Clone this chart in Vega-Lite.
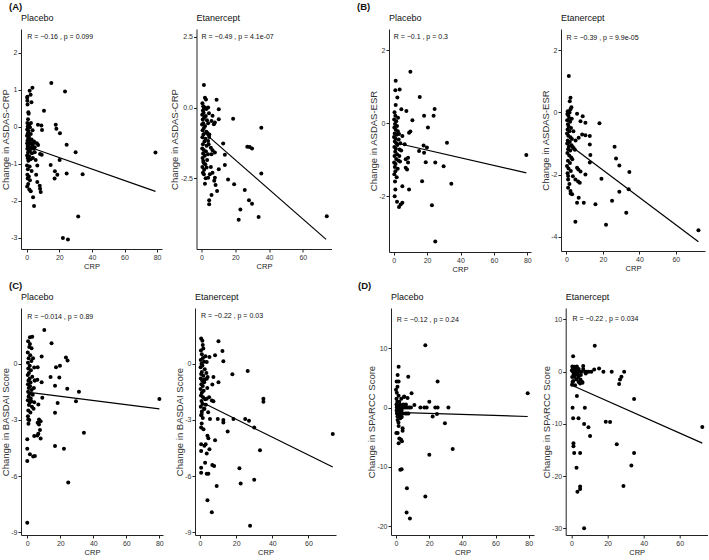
{
"$schema": "https://vega.github.io/schema/vega-lite/v6.json",
"padding": {"left": 0, "top": 1, "right": 0, "bottom": 0},
"background": "white",
"config": {
  "font": "Liberation Sans",
  "view": {"stroke": null},
  "axis": {"domainColor": "#222", "tickColor": "#222", "labelColor": "#333", "titleColor": "#222", "labelFontSize": 7, "titleFontSize": 7.5, "titleFontWeight": "normal", "tickSize": 3, "grid": false, "labelPadding": 1.5, "titlePadding": 2, "labelExpr": "replace(datum.label, '−', '-')"},
  "axisY": {"titleFontSize": 9.5, "titlePadding": 0.5, "labelPadding": 1, "titleColor": "#333"},
  "title": {"anchor": "start", "frame": "group", "fontSize": 9, "fontWeight": "normal", "color": "#111", "offset": 6, "baseline": "alphabetic"},
  "circle": {"size": 16, "color": "black", "opacity": 1},
  "line": {"color": "black", "strokeWidth": 1.2},
  "text": {"align": "left", "baseline": "middle", "fontSize": 7, "color": "#111"}
},
"datasets": {
  "L": [
    {"p":"AP","x":0.2,"y":-0.53},{"p":"AP","x":79,"y":-1.75},
    {"p":"AE","x":0.5,"y":-0.83},{"p":"AE","x":73.8,"y":-4.66},
    {"p":"BP","x":0.2,"y":-0.53},{"p":"BP","x":79.4,"y":-1.36},
    {"p":"BE","x":0.2,"y":-0.98},{"p":"BE","x":72.4,"y":-4.15},
    {"p":"CP","x":0,"y":-1.52},{"p":"CP","x":80,"y":-2.41},
    {"p":"CE","x":0.5,"y":-2.04},{"p":"CE","x":73.5,"y":-5.52},
    {"p":"DP","x":0,"y":-0.82},{"p":"DP","x":79.4,"y":-1.51},
    {"p":"DE","x":0.5,"y":-2.65},{"p":"DE","x":72.5,"y":-13.7}
  ],
  "T": [
    {"p":"AP","x":0.3,"y":2.43,"t":"R = −0.16 , p = 0.099"},
    {"p":"AE","x":0,"y":2.5,"t":"R = −0.49 , p = 4.1e-07"},
    {"p":"BP","x":0,"y":2.35,"t":"R = −0.1 , p = 0.3"},
    {"p":"BE","x":0,"y":2.39,"t":"R = −0.39 , p = 9.9e-05"},
    {"p":"CP","x":0,"y":2.48,"t":"R = −0.014 , p = 0.89"},
    {"p":"CE","x":0.5,"y":2.54,"t":"R = −0.22 , p = 0.03"},
    {"p":"DP","x":0.5,"y":14.76,"t":"R = −0.12 , p = 0.24"},
    {"p":"DE","x":0.5,"y":10.0,"t":"R = −0.22 , p = 0.034"}
  ],
  "AP": [
    {"x":15.1,"y":1.18},{"x":23.5,"y":0.95},{"x":3.5,"y":1.05},{"x":1.8,"y":0.97},{"x":0.4,"y":0.81},{"x":2.4,"y":0.86},{"x":0.4,"y":0.7},{"x":2.9,"y":0.66},{"x":10.6,"y":0.43},{"x":1.0,"y":0.39},{"x":6.9,"y":0.05},{"x":9.0,"y":0.03},{"x":17.8,"y":0.05},{"x":18.2,"y":-0.06},{"x":9.4,"y":-0.09},{"x":20.4,"y":-0.18},{"x":24.5,"y":-0.49},{"x":30,"y":-0.69},{"x":79,"y":-0.7},{"x":14.7,"y":-1.04},{"x":20.2,"y":-0.9},{"x":17.3,"y":-1.21},{"x":18.8,"y":-1.3},{"x":17.1,"y":-1.4},{"x":24.5,"y":-1.27},{"x":34.3,"y":-1.29},{"x":31.6,"y":-2.43},{"x":22.2,"y":-3.01},{"x":25.3,"y":-3.05},{"x":4.5,"y":-2.15},{"x":3.9,"y":-1.91},{"x":6.5,"y":-1.05},{"x":6.5,"y":-1.5},{"x":8.2,"y":-1.68},{"x":8.6,"y":-1.77},{"x":8.0,"y":-1.6},{"x":9.2,"y":-0.76},{"x":8.2,"y":-0.74},{"x":4.9,"y":-0.69},{"x":4.9,"y":-0.56},{"x":6.2,"y":-0.45},{"x":7.0,"y":-0.5},{"x":5.5,"y":-0.9},{"x":5.8,"y":-1.3},
    {"x":0.3,"y":0.78},{"x":0.5,"y":0.6},{"x":1.2,"y":0.35},{"x":0.8,"y":0.2},{"x":0.4,"y":0.1},{"x":1.5,"y":0.05},{"x":0.6,"y":0.0},{"x":2.0,"y":-0.02},{"x":0.3,"y":-0.08},{"x":1.1,"y":-0.12},{"x":0.7,"y":-0.18},{"x":2.5,"y":-0.2},{"x":0.2,"y":-0.25},{"x":1.4,"y":-0.28},{"x":0.9,"y":-0.33},{"x":3.0,"y":-0.35},{"x":0.5,"y":-0.38},{"x":1.8,"y":-0.4},{"x":0.3,"y":-0.45},{"x":2.2,"y":-0.45},{"x":1.0,"y":-0.48},{"x":3.5,"y":-0.5},{"x":0.6,"y":-0.52},{"x":1.6,"y":-0.55},{"x":2.8,"y":-0.58},{"x":0.4,"y":-0.6},{"x":1.2,"y":-0.62},{"x":2.0,"y":-0.65},{"x":0.8,"y":-0.7},{"x":3.2,"y":-0.72},{"x":0.3,"y":-0.78},{"x":1.5,"y":-0.8},{"x":0.6,"y":-0.85},{"x":2.4,"y":-0.88},{"x":1.0,"y":-0.92},{"x":0.2,"y":-1.05},{"x":1.8,"y":-1.08},{"x":0.7,"y":-1.15},{"x":3.0,"y":-1.2},{"x":0.4,"y":-1.3},{"x":1.3,"y":-1.35},{"x":0.6,"y":-1.4},{"x":2.0,"y":-1.45},{"x":0.9,"y":-1.55},{"x":0.3,"y":-1.62},{"x":1.6,"y":-1.7},{"x":2.5,"y":-1.75},{"x":4.0,"y":-0.45},{"x":4.3,"y":-0.6},{"x":3.8,"y":-0.85},{"x":4.5,"y":-0.4},{"x":3.6,"y":-0.1},{"x":2.6,"y":0.1}
  ],
  "AE": [
    {"x":1.4,"y":0.8},{"x":2.0,"y":0.35},{"x":2.6,"y":0.29},{"x":8.9,"y":0.28},{"x":10.2,"y":-0.06},{"x":10.2,"y":-0.41},{"x":18.7,"y":-0.39},{"x":35.4,"y":-0.71},{"x":6.5,"y":-0.29},{"x":3.9,"y":0.0},{"x":5.9,"y":-0.47},{"x":7.9,"y":-0.53},{"x":7.3,"y":-0.59},{"x":12.8,"y":-1.27},{"x":13.8,"y":-1.67},{"x":13.8,"y":-2.03},{"x":7.9,"y":-1.59},{"x":6.5,"y":-1.51},{"x":5.5,"y":-1.42},{"x":5.9,"y":-1.65},{"x":4.5,"y":-1.04},{"x":3.9,"y":-1.18},{"x":27.1,"y":-1.38},{"x":28.5,"y":-1.39},{"x":29.9,"y":-1.45},{"x":35.4,"y":-2.33},{"x":15.7,"y":-2.54},{"x":19.3,"y":-2.71},{"x":25.6,"y":-2.91},{"x":28.1,"y":-3.28},{"x":29.9,"y":-3.4},{"x":23.0,"y":-3.6},{"x":22.0,"y":-3.97},{"x":33.8,"y":-3.87},{"x":74.2,"y":-3.84},{"x":5.5,"y":-2.1},{"x":6.5,"y":-2.3},{"x":7.9,"y":-2.48},{"x":7.5,"y":-2.59},{"x":8.3,"y":-2.74},{"x":9.2,"y":-2.95},{"x":10.2,"y":-2.18},{"x":5.9,"y":-3.09},{"x":4.5,"y":-3.28},{"x":4.5,"y":-3.42},{"x":4.9,"y":-2.36},{"x":3.9,"y":-2.48},{"x":3.0,"y":-2.12},{"x":2.0,"y":-2.69},{"x":1.4,"y":-2.36},{"x":1.0,"y":-1.89},
    {"x":0.5,"y":0.15},{"x":1.0,"y":0.05},{"x":1.5,"y":-0.02},{"x":2.0,"y":0.0},{"x":2.8,"y":-0.05},{"x":0.8,"y":-0.1},{"x":1.2,"y":-0.18},{"x":0.4,"y":-0.25},{"x":2.5,"y":-0.3},{"x":1.6,"y":-0.35},{"x":0.7,"y":-0.42},{"x":3.2,"y":-0.45},{"x":1.0,"y":-0.55},{"x":0.3,"y":-0.6},{"x":2.1,"y":-0.65},{"x":1.4,"y":-0.72},{"x":0.6,"y":-0.8},{"x":2.8,"y":-0.85},{"x":3.5,"y":-0.9},{"x":1.1,"y":-0.95},{"x":0.5,"y":-1.05},{"x":2.3,"y":-1.1},{"x":1.7,"y":-1.2},{"x":0.8,"y":-1.3},{"x":3.0,"y":-1.35},{"x":0.4,"y":-1.45},{"x":1.3,"y":-1.5},{"x":2.6,"y":-1.55},{"x":0.9,"y":-1.62},{"x":1.9,"y":-1.7},{"x":0.6,"y":-1.78},{"x":3.3,"y":-1.85},{"x":1.2,"y":-1.95},{"x":2.2,"y":-2.0},{"x":0.5,"y":-2.1},{"x":1.5,"y":-2.2},{"x":0.8,"y":-2.3},{"x":3.8,"y":-1.65},{"x":4.2,"y":-1.3},{"x":4.6,"y":-0.95},{"x":3.9,"y":-0.55},{"x":4.4,"y":-0.2},{"x":2.4,"y":-2.5}
  ],
  "BP": [
    {"x":10,"y":1.41},{"x":1.2,"y":1.16},{"x":1.0,"y":0.9},{"x":3.6,"y":0.92},{"x":2.2,"y":0.7},{"x":15.6,"y":0.72},{"x":24.5,"y":0.39},{"x":7.6,"y":0.33},{"x":23.9,"y":0.2},{"x":18.2,"y":0.2},{"x":4.6,"y":0.38},{"x":1.2,"y":0.5},{"x":11.2,"y":0.08},{"x":20.5,"y":-0.12},{"x":10,"y":-0.23},{"x":9.2,"y":-0.26},{"x":5.2,"y":-0.35},{"x":6.6,"y":-0.58},{"x":31.9,"y":-0.54},{"x":17.9,"y":-0.61},{"x":19.9,"y":-0.67},{"x":18.2,"y":-0.81},{"x":15.2,"y":-0.76},{"x":79.4,"y":-0.87},{"x":7.2,"y":-0.99},{"x":8.6,"y":-0.95},{"x":8.6,"y":-1.08},{"x":7.2,"y":-1.22},{"x":8,"y":-1.27},{"x":19.2,"y":-1.07},{"x":24.9,"y":-1.08},{"x":29.9,"y":-1.18},{"x":17,"y":-1.59},{"x":34.5,"y":-1.66},{"x":5.2,"y":-1.73},{"x":9.2,"y":-1.82},{"x":22.9,"y":-2.25},{"x":5.2,"y":-2.18},{"x":4.2,"y":-2.23},{"x":3.2,"y":-2.3},{"x":2.0,"y":-2.15},{"x":0.6,"y":-2.0},{"x":1.0,"y":-1.82},{"x":24.9,"y":-3.24},
    {"x":0.5,"y":0.3},{"x":1.0,"y":0.2},{"x":0.3,"y":0.1},{"x":1.5,"y":0.05},{"x":0.8,"y":-0.02},{"x":2.0,"y":-0.08},{"x":0.4,"y":-0.12},{"x":1.2,"y":-0.18},{"x":2.5,"y":-0.22},{"x":0.6,"y":-0.28},{"x":1.8,"y":-0.32},{"x":0.2,"y":-0.38},{"x":1.0,"y":-0.42},{"x":3.0,"y":-0.45},{"x":0.7,"y":-0.5},{"x":1.6,"y":-0.55},{"x":2.2,"y":-0.6},{"x":0.4,"y":-0.65},{"x":1.3,"y":-0.7},{"x":3.5,"y":-0.72},{"x":0.9,"y":-0.78},{"x":2.0,"y":-0.85},{"x":0.5,"y":-0.9},{"x":1.5,"y":-0.98},{"x":2.8,"y":-1.02},{"x":0.3,"y":-1.08},{"x":1.1,"y":-1.12},{"x":0.7,"y":-1.2},{"x":2.4,"y":-1.25},{"x":1.0,"y":-1.32},{"x":0.4,"y":-1.4},{"x":1.8,"y":-1.48},{"x":0.8,"y":-1.6},{"x":3.2,"y":-0.3},{"x":4.0,"y":-0.55},{"x":4.5,"y":-0.75},{"x":3.8,"y":-1.05},{"x":2.6,"y":0.15},{"x":3.4,"y":-0.9}
  ],
  "BE": [
    {"x":1.3,"y":1.17},{"x":2.2,"y":0.47},{"x":1.8,"y":0.36},{"x":2.7,"y":0.17},{"x":2.2,"y":0.1},{"x":0.7,"y":0.04},{"x":5.8,"y":-0.04},{"x":8.9,"y":-0.12},{"x":7.7,"y":-0.28},{"x":10.4,"y":-0.33},{"x":18.1,"y":-0.35},{"x":8.6,"y":-0.71},{"x":10.4,"y":-0.73},{"x":12.8,"y":-0.76},{"x":6.7,"y":-0.81},{"x":12.8,"y":-1.03},{"x":26.4,"y":-1.1},{"x":27.2,"y":-1.48},{"x":13.1,"y":-1.37},{"x":12.8,"y":-1.61},{"x":29,"y":-1.7},{"x":34.5,"y":-1.91},{"x":5.8,"y":-1.78},{"x":6.5,"y":-1.83},{"x":7.7,"y":-1.9},{"x":10.4,"y":-1.99},{"x":19.2,"y":-2.13},{"x":4.9,"y":-2.15},{"x":6.4,"y":-2.22},{"x":7.3,"y":-2.26},{"x":34.1,"y":-2.47},{"x":29,"y":-2.55},{"x":9.5,"y":-2.9},{"x":5.8,"y":-2.9},{"x":6.7,"y":-2.74},{"x":15.9,"y":-2.95},{"x":25,"y":-2.84},{"x":32.8,"y":-3.22},{"x":4.9,"y":-3.51},{"x":21.7,"y":-3.61},{"x":72.4,"y":-3.78},{"x":3.1,"y":-2.63},{"x":2.2,"y":-2.52},{"x":0.9,"y":-2.42},{"x":0.9,"y":-2.04},
    {"x":0.5,"y":-0.05},{"x":1.0,"y":-0.1},{"x":1.5,"y":-0.18},{"x":0.4,"y":-0.25},{"x":2.0,"y":-0.3},{"x":0.8,"y":-0.38},{"x":1.2,"y":-0.45},{"x":2.5,"y":-0.5},{"x":0.6,"y":-0.55},{"x":1.6,"y":-0.6},{"x":0.3,"y":-0.68},{"x":1.0,"y":-0.75},{"x":2.2,"y":-0.8},{"x":3.0,"y":-0.85},{"x":0.7,"y":-0.9},{"x":1.8,"y":-0.95},{"x":0.4,"y":-1.0},{"x":2.8,"y":-1.05},{"x":1.3,"y":-1.1},{"x":3.5,"y":-1.12},{"x":0.9,"y":-1.18},{"x":2.1,"y":-1.22},{"x":4.0,"y":-1.15},{"x":4.6,"y":-1.2},{"x":0.5,"y":-1.3},{"x":1.5,"y":-1.38},{"x":2.6,"y":-1.45},{"x":0.8,"y":-1.55},{"x":1.9,"y":-1.62},{"x":0.3,"y":-1.72},{"x":1.1,"y":-1.8},{"x":2.4,"y":-1.88},{"x":0.6,"y":-1.95},{"x":3.2,"y":-1.5},{"x":5.0,"y":-0.9},{"x":3.8,"y":-0.6},{"x":2.9,"y":-0.2},{"x":1.7,"y":0.0},{"x":0.9,"y":-2.15},{"x":1.6,"y":-2.3},{"x":2.3,"y":-2.6},{"x":3.5,"y":-2.05}
  ],
  "CP": [
    {"x":10.3,"y":1.81},{"x":14.7,"y":1.1},{"x":1.6,"y":1.42},{"x":3.0,"y":1.45},{"x":1.6,"y":1.06},{"x":2.6,"y":0.83},{"x":8.7,"y":0.39},{"x":23.4,"y":0.34},{"x":24.4,"y":0.18},{"x":19.8,"y":-0.11},{"x":17.4,"y":-0.18},{"x":6.3,"y":-0.18},{"x":14.1,"y":-0.71},{"x":19.4,"y":-0.73},{"x":24.2,"y":-1.33},{"x":31.3,"y":-1.49},{"x":16.8,"y":-1.17},{"x":4.6,"y":-0.89},{"x":6.1,"y":-0.85},{"x":8.7,"y":-0.99},{"x":80,"y":-1.88},{"x":9.1,"y":-1.82},{"x":18.4,"y":-2.09},{"x":29.5,"y":-2.0},{"x":6.7,"y":-2.18},{"x":4.2,"y":-2.06},{"x":16.8,"y":-2.62},{"x":7.1,"y":-2.98},{"x":8.1,"y":-3.07},{"x":6.3,"y":-3.15},{"x":7.1,"y":-3.24},{"x":7.7,"y":-3.54},{"x":6.7,"y":-3.74},{"x":6.1,"y":-3.83},{"x":8.1,"y":-4.0},{"x":4.2,"y":-3.86},{"x":34.3,"y":-3.69},{"x":16.8,"y":-4.39},{"x":22.2,"y":-4.54},{"x":3.6,"y":-4.96},{"x":4.6,"y":-4.93},{"x":1.6,"y":-4.84},{"x":0,"y":-5.19},{"x":24.8,"y":-6.34},{"x":0,"y":-8.5},{"x":0,"y":-4.54},{"x":0,"y":-4.04},{"x":0.6,"y":-2.98},
    {"x":0.5,"y":1.2},{"x":1.2,"y":0.9},{"x":0.3,"y":0.6},{"x":1.8,"y":0.45},{"x":0.8,"y":0.3},{"x":2.5,"y":0.15},{"x":0.4,"y":0.05},{"x":1.5,"y":-0.1},{"x":0.6,"y":-0.25},{"x":2.2,"y":-0.35},{"x":1.0,"y":-0.5},{"x":0.3,"y":-0.6},{"x":3.0,"y":-0.7},{"x":1.4,"y":-0.8},{"x":0.7,"y":-0.9},{"x":2.0,"y":-1.0},{"x":0.4,"y":-1.1},{"x":1.7,"y":-1.2},{"x":0.9,"y":-1.3},{"x":2.6,"y":-1.4},{"x":0.5,"y":-1.5},{"x":1.3,"y":-1.6},{"x":3.3,"y":-1.65},{"x":0.8,"y":-1.75},{"x":2.1,"y":-1.85},{"x":0.3,"y":-1.95},{"x":1.6,"y":-2.05},{"x":1.0,"y":-2.2},{"x":2.8,"y":-2.3},{"x":0.6,"y":-2.5},{"x":1.9,"y":-2.6},{"x":0.4,"y":-2.8},{"x":1.2,"y":-3.0},{"x":0.7,"y":-3.2},{"x":2.4,"y":-2.0},{"x":4.0,"y":-1.3},{"x":4.5,"y":-0.9},{"x":3.8,"y":-2.4},{"x":3.5,"y":0.3},{"x":4.2,"y":-0.2}
  ],
  "CE": [
    {"x":0.6,"y":1.34},{"x":1.3,"y":1.22},{"x":1.5,"y":0.99},{"x":1.8,"y":0.81},{"x":10.2,"y":1.2},{"x":12.4,"y":0.68},{"x":8.3,"y":0.45},{"x":5.2,"y":0.36},{"x":12.9,"y":0.13},{"x":3.7,"y":0.09},{"x":26.4,"y":-0.39},{"x":17.9,"y":-0.57},{"x":7.4,"y":-0.72},{"x":3.7,"y":-0.81},{"x":4.2,"y":-0.72},{"x":10.2,"y":-0.99},{"x":6.8,"y":-1.11},{"x":35.1,"y":-1.88},{"x":35.1,"y":-2.03},{"x":6.5,"y":-1.97},{"x":7.4,"y":-2.01},{"x":5.0,"y":-1.79},{"x":3.7,"y":-1.88},{"x":9.8,"y":-2.96},{"x":12.9,"y":-3.01},{"x":12.9,"y":-3.14},{"x":18.5,"y":-2.96},{"x":25,"y":-2.96},{"x":27.1,"y":-3.05},{"x":30.0,"y":-3.41},{"x":5.5,"y":-2.96},{"x":15.3,"y":-3.62},{"x":73.5,"y":-3.76},{"x":33.2,"y":-4.63},{"x":4.1,"y":-3.85},{"x":4.6,"y":-3.98},{"x":3.1,"y":-4.3},{"x":2.4,"y":-4.39},{"x":8.3,"y":-4.09},{"x":5.2,"y":-4.57},{"x":3.7,"y":-4.8},{"x":2.8,"y":-5.29},{"x":6.8,"y":-5.41},{"x":7.8,"y":-5.47},{"x":21.8,"y":-5.59},{"x":3.7,"y":-5.88},{"x":4.6,"y":-5.88},{"x":0.6,"y":-5.83},{"x":0.6,"y":-5.56},{"x":22.5,"y":-6.4},{"x":30,"y":-6.2},{"x":9.2,"y":-6.54},{"x":4.1,"y":-7.3},{"x":6.5,"y":-7.94},{"x":27.7,"y":-8.66},{"x":0.6,"y":-4.66},{"x":0.6,"y":-4.3},{"x":0.6,"y":-3.41},{"x":0.9,"y":-2.69},{"x":2.4,"y":-2.42},
    {"x":0.5,"y":0.7},{"x":1.0,"y":0.5},{"x":1.6,"y":0.3},{"x":0.4,"y":0.2},{"x":2.2,"y":0.1},{"x":0.8,"y":0.0},{"x":1.3,"y":-0.1},{"x":0.3,"y":-0.2},{"x":2.6,"y":-0.3},{"x":1.0,"y":-0.45},{"x":0.6,"y":-0.55},{"x":1.8,"y":-0.65},{"x":0.4,"y":-0.8},{"x":1.2,"y":-0.9},{"x":2.3,"y":-1.0},{"x":0.7,"y":-1.1},{"x":1.5,"y":-1.2},{"x":0.3,"y":-1.35},{"x":2.0,"y":-1.45},{"x":1.0,"y":-1.55},{"x":0.5,"y":-1.7},{"x":1.7,"y":-1.8},{"x":2.8,"y":-1.9},{"x":0.8,"y":-2.0},{"x":1.3,"y":-2.15},{"x":0.4,"y":-2.3},{"x":2.2,"y":-2.4},{"x":1.0,"y":-2.55},{"x":3.2,"y":-2.2},{"x":0.6,"y":-2.75},{"x":1.5,"y":-2.9},{"x":3.5,"y":-0.5},{"x":4.0,"y":-1.3},{"x":2.5,"y":-0.85},{"x":4.5,"y":-2.6},{"x":0.9,"y":-3.2},{"x":3.0,"y":0.4},{"x":1.9,"y":-3.5}
  ],
  "DP": [
    {"x":17.7,"y":10.5},{"x":1.6,"y":6.9},{"x":1.0,"y":5.5},{"x":1.6,"y":4.4},{"x":0.4,"y":4.4},{"x":7.4,"y":5.2},{"x":25.1,"y":4.4},{"x":0,"y":3.0},{"x":9.4,"y":2.4},{"x":79.4,"y":2.4},{"x":5,"y":1.85},{"x":7.0,"y":1.6},{"x":20.1,"y":1.0},{"x":11.1,"y":0.45},{"x":14.7,"y":0},{"x":17.1,"y":0},{"x":18.5,"y":0},{"x":23.7,"y":0},{"x":25.1,"y":0},{"x":31.6,"y":0},{"x":8.0,"y":0},{"x":6.0,"y":0},{"x":22.1,"y":-1.51},{"x":24.7,"y":-1.07},{"x":29.5,"y":-2.64},{"x":20.1,"y":-7.96},{"x":34.2,"y":-7.0},{"x":2.6,"y":-1.8},{"x":1,"y":-2.1},{"x":1.6,"y":-3.1},{"x":4.0,"y":-3.5},{"x":4.0,"y":-3.9},{"x":1,"y":-4.3},{"x":2,"y":-5.2},{"x":3,"y":-5.4},{"x":3.6,"y":-5.7},{"x":1.6,"y":-6.0},{"x":2.6,"y":-10.5},{"x":3.4,"y":-10.4},{"x":6.6,"y":-13.6},{"x":17.7,"y":-15.0},{"x":6.4,"y":-17.7},{"x":8.4,"y":-18.7},
    {"x":0.3,"y":1.5},{"x":0.8,"y":1.0},{"x":1.2,"y":0.5},{"x":0.5,"y":0.0},{"x":1.0,"y":0.0},{"x":1.5,"y":0.0},{"x":2.0,"y":0.0},{"x":2.5,"y":0.0},{"x":3.0,"y":0.0},{"x":3.5,"y":0.0},{"x":4.2,"y":0.0},{"x":5.0,"y":0.0},{"x":0.4,"y":-0.5},{"x":1.1,"y":-0.5},{"x":1.8,"y":-0.5},{"x":2.6,"y":-0.5},{"x":3.4,"y":-0.5},{"x":0.6,"y":-1.0},{"x":1.4,"y":-1.0},{"x":2.2,"y":-1.0},{"x":3.0,"y":-1.0},{"x":4.0,"y":-1.0},{"x":5.5,"y":-1.0},{"x":6.5,"y":-1.0},{"x":7.5,"y":-1.0},{"x":0.3,"y":0.5},{"x":0.9,"y":-1.5},{"x":2.0,"y":1.0},{"x":1.6,"y":2.0},{"x":3.2,"y":1.5},{"x":2.5,"y":0.5},{"x":4.5,"y":0.5},{"x":6.0,"y":0.5},{"x":7.0,"y":0.0},{"x":9.0,"y":0.0},{"x":0.5,"y":2.5},{"x":0.9,"y":3.5},{"x":1.5,"y":-2.5},{"x":0.2,"y":-4.3},{"x":1.3,"y":-0.2},{"x":0.7,"y":0.2},{"x":4.8,"y":1.8},{"x":1.0,"y":-0.8},{"x":2.7,"y":-1.3},{"x":3.5,"y":-1.6}
  ],
  "DE": [
    {"x":12.9,"y":4.95},{"x":0.9,"y":2.97},{"x":1.5,"y":0.94},{"x":6.5,"y":1.07},{"x":15.3,"y":0.62},{"x":12.6,"y":0.43},{"x":17.7,"y":0},{"x":22.3,"y":0},{"x":29.2,"y":0},{"x":27.7,"y":-0.97},{"x":26.9,"y":-1.48},{"x":26.4,"y":-2.37},{"x":7.9,"y":-0.33},{"x":5.2,"y":-0.65},{"x":6.1,"y":-2.12},{"x":4.8,"y":-2.25},{"x":3,"y":-4.67},{"x":0.6,"y":-6.9},{"x":7.4,"y":-6.9},{"x":34.7,"y":-5.25},{"x":0.9,"y":-8.95},{"x":3.9,"y":-8.95},{"x":7.0,"y":-10.03},{"x":9.4,"y":-10.67},{"x":10.3,"y":-12.33},{"x":19,"y":-9.6},{"x":21.4,"y":-9.64},{"x":72.5,"y":-10.6},{"x":1.1,"y":-13.7},{"x":1.1,"y":-14.3},{"x":1.5,"y":-15.6},{"x":4.8,"y":-15.6},{"x":25.1,"y":-13.9},{"x":34.7,"y":-15.6},{"x":33.2,"y":-18.0},{"x":2.8,"y":-18.4},{"x":4.8,"y":-22.0},{"x":4.8,"y":-22.5},{"x":3.3,"y":-23.0},{"x":28.8,"y":-21.9},{"x":7.0,"y":-30},
    {"x":0.5,"y":1.0},{"x":1.0,"y":0.5},{"x":1.5,"y":0.0},{"x":2.0,"y":0.5},{"x":2.5,"y":0.0},{"x":3.0,"y":1.0},{"x":3.5,"y":0.0},{"x":4.0,"y":0.5},{"x":0.8,"y":0.0},{"x":1.2,"y":-0.5},{"x":2.2,"y":-0.5},{"x":3.2,"y":-0.5},{"x":4.5,"y":0.0},{"x":5.5,"y":0.0},{"x":6.5,"y":0.5},{"x":7.5,"y":0.0},{"x":8.5,"y":0.0},{"x":9.5,"y":0.0},{"x":11.0,"y":0.0},{"x":0.4,"y":-1.0},{"x":1.8,"y":-1.0},{"x":2.8,"y":-1.5},{"x":0.6,"y":-2.0},{"x":4.0,"y":-2.0},{"x":5.0,"y":-1.5},{"x":0.3,"y":-2.5},{"x":1.4,"y":-0.2},{"x":2.6,"y":0.8},{"x":3.8,"y":-1.0},{"x":6.0,"y":-2.0},{"x":1.0,"y":-1.8},{"x":0.2,"y":0.2},{"x":0.7,"y":0.7},{"x":2.0,"y":-2.6}
  ]
},
"spacing": 7,
"vconcat": [
  {"spacing": 25, "hconcat": [
    {"title": {"text": "(A)", "fontSize": 9.5, "fontWeight": "bold", "offset": 3, "dx": -12}, "spacing": 7.5, "hconcat": [
      {"width": 141, "height": 220, "title": "Placebo",
       "encoding": {"x": {"field": "x", "type": "quantitative", "scale": {"domain": [-3.5, 83], "nice": false, "zero": false}, "axis": {"values": [0, 20, 40, 60, 80], "title": "CRP"}}, "y": {"field": "y", "type": "quantitative", "scale": {"domain": [-3.31, 2.64], "nice": false, "zero": false}, "axis": {"values": [-3, -2, -1, 0, 1, 2], "title": "Change in ASDAS-CRP"}}},
       "layer": [
        {"data": {"name": "AP"}, "mark": "circle"},
        {"data": {"name": "L"}, "transform": [{"filter": "datum.p == 'AP'"}], "mark": "line"},
        {"data": {"name": "T"}, "transform": [{"filter": "datum.p == 'AP'"}], "mark": "text", "encoding": {"text": {"field": "t"}}}
       ]},
      {"width": 135, "height": 220, "title": "Etanercept",
       "encoding": {"x": {"field": "x", "type": "quantitative", "scale": {"domain": [-3, 77], "nice": false, "zero": false}, "axis": {"values": [0, 20, 40, 60], "title": "CRP"}}, "y": {"field": "y", "type": "quantitative", "scale": {"domain": [-5.0, 2.78], "nice": false, "zero": false}, "axis": {"values": [-2.5, 0, 2.5], "format": ".1f", "title": "Change in ASDAS-CRP"}}},
       "layer": [
        {"data": {"name": "AE"}, "mark": "circle"},
        {"data": {"name": "L"}, "transform": [{"filter": "datum.p == 'AE'"}], "mark": "line"},
        {"data": {"name": "T"}, "transform": [{"filter": "datum.p == 'AE'"}], "mark": "text", "encoding": {"text": {"field": "t"}}}
       ]}
    ]},
    {"title": {"text": "(B)", "fontSize": 9.5, "fontWeight": "bold", "offset": 3, "dx": -32}, "spacing": 8, "hconcat": [
      {"width": 142, "height": 223, "title": "Placebo",
       "encoding": {"x": {"field": "x", "type": "quantitative", "scale": {"domain": [-2.8, 82.2], "nice": false, "zero": false}, "axis": {"values": [0, 20, 40, 60, 80], "title": "CRP"}}, "y": {"field": "y", "type": "quantitative", "scale": {"domain": [-3.53, 2.58], "nice": false, "zero": false}, "axis": {"values": [-2, 0, 2], "title": "Change in ASDAS-ESR"}}},
       "layer": [
        {"data": {"name": "BP"}, "mark": "circle"},
        {"data": {"name": "L"}, "transform": [{"filter": "datum.p == 'BP'"}], "mark": "line"},
        {"data": {"name": "T"}, "transform": [{"filter": "datum.p == 'BP'"}], "mark": "text", "encoding": {"text": {"field": "t"}}}
       ]},
      {"width": 144, "height": 222, "title": "Etanercept",
       "encoding": {"x": {"field": "x", "type": "quantitative", "scale": {"domain": [-3, 76], "nice": false, "zero": false}, "axis": {"values": [0, 20, 40, 60], "title": "CRP"}}, "y": {"field": "y", "type": "quantitative", "scale": {"domain": [-4.45, 2.68], "nice": false, "zero": false}, "axis": {"values": [-4, -2, 0, 2], "title": "Change in ASDAS-ESR"}}},
       "layer": [
        {"data": {"name": "BE"}, "mark": "circle"},
        {"data": {"name": "L"}, "transform": [{"filter": "datum.p == 'BE'"}], "mark": "line"},
        {"data": {"name": "T"}, "transform": [{"filter": "datum.p == 'BE'"}], "mark": "text", "encoding": {"text": {"field": "t"}}}
       ]}
    ]}
  ]},
  {"spacing": 22, "hconcat": [
    {"title": {"text": "(C)", "fontSize": 9.5, "fontWeight": "bold", "offset": 3, "dx": -12}, "spacing": 10, "hconcat": [
      {"width": 142, "height": 227, "title": "Placebo",
       "encoding": {"x": {"field": "x", "type": "quantitative", "scale": {"domain": [-3.8, 82.2], "nice": false, "zero": false}, "axis": {"values": [0, 20, 40, 60, 80], "title": "CRP"}}, "y": {"field": "y", "type": "quantitative", "scale": {"domain": [-9.15, 2.98], "nice": false, "zero": false}, "axis": {"values": [-9, -6, -3, 0], "title": "Change in BASDAI Score"}}},
       "layer": [
        {"data": {"name": "CP"}, "mark": "circle"},
        {"data": {"name": "L"}, "transform": [{"filter": "datum.p == 'CP'"}], "mark": "line"},
        {"data": {"name": "T"}, "transform": [{"filter": "datum.p == 'CP'"}], "mark": "text", "encoding": {"text": {"field": "t"}}}
       ]},
      {"width": 141, "height": 227, "title": "Etanercept",
       "encoding": {"x": {"field": "x", "type": "quantitative", "scale": {"domain": [-2.8, 75.3], "nice": false, "zero": false}, "axis": {"values": [0, 20, 40, 60], "title": "CRP"}}, "y": {"field": "y", "type": "quantitative", "scale": {"domain": [-9.15, 2.97], "nice": false, "zero": false}, "axis": {"values": [-9, -6, -3, 0], "title": "Change in BASDAI Score"}}},
       "layer": [
        {"data": {"name": "CE"}, "mark": "circle"},
        {"data": {"name": "L"}, "transform": [{"filter": "datum.p == 'CE'"}], "mark": "line"},
        {"data": {"name": "T"}, "transform": [{"filter": "datum.p == 'CE'"}], "mark": "text", "encoding": {"text": {"field": "t"}}}
       ]}
    ]},
    {"title": {"text": "(D)", "fontSize": 9.5, "fontWeight": "bold", "offset": 3, "dx": -33}, "spacing": 6.7, "hconcat": [
      {"width": 143, "height": 227, "title": "Placebo",
       "encoding": {"x": {"field": "x", "type": "quantitative", "scale": {"domain": [-3, 83.2], "nice": false, "zero": false}, "axis": {"values": [0, 20, 40, 60, 80], "title": "CRP"}}, "y": {"field": "y", "type": "quantitative", "scale": {"domain": [-21.5, 16.8], "nice": false, "zero": false}, "axis": {"values": [-20, -10, 0, 10], "title": "Change in SPARCC Score"}}},
       "layer": [
        {"data": {"name": "DP"}, "mark": "circle"},
        {"data": {"name": "L"}, "transform": [{"filter": "datum.p == 'DP'"}], "mark": "line"},
        {"data": {"name": "T"}, "transform": [{"filter": "datum.p == 'DP'"}], "mark": "text", "encoding": {"text": {"field": "t"}}}
       ]},
      {"width": 142, "height": 227, "title": "Etanercept",
       "encoding": {"x": {"field": "x", "type": "quantitative", "scale": {"domain": [-3.2, 75.5], "nice": false, "zero": false}, "axis": {"values": [0, 20, 40, 60], "title": "CRP"}}, "y": {"field": "y", "type": "quantitative", "scale": {"domain": [-31.3, 12.2], "nice": false, "zero": false}, "axis": {"values": [-30, -20, -10, 0, 10], "title": "Change in SPARCC Score"}}},
       "layer": [
        {"data": {"name": "DE"}, "mark": "circle"},
        {"data": {"name": "L"}, "transform": [{"filter": "datum.p == 'DE'"}], "mark": "line"},
        {"data": {"name": "T"}, "transform": [{"filter": "datum.p == 'DE'"}], "mark": "text", "encoding": {"text": {"field": "t"}}}
       ]}
    ]}
  ]}
]
}
